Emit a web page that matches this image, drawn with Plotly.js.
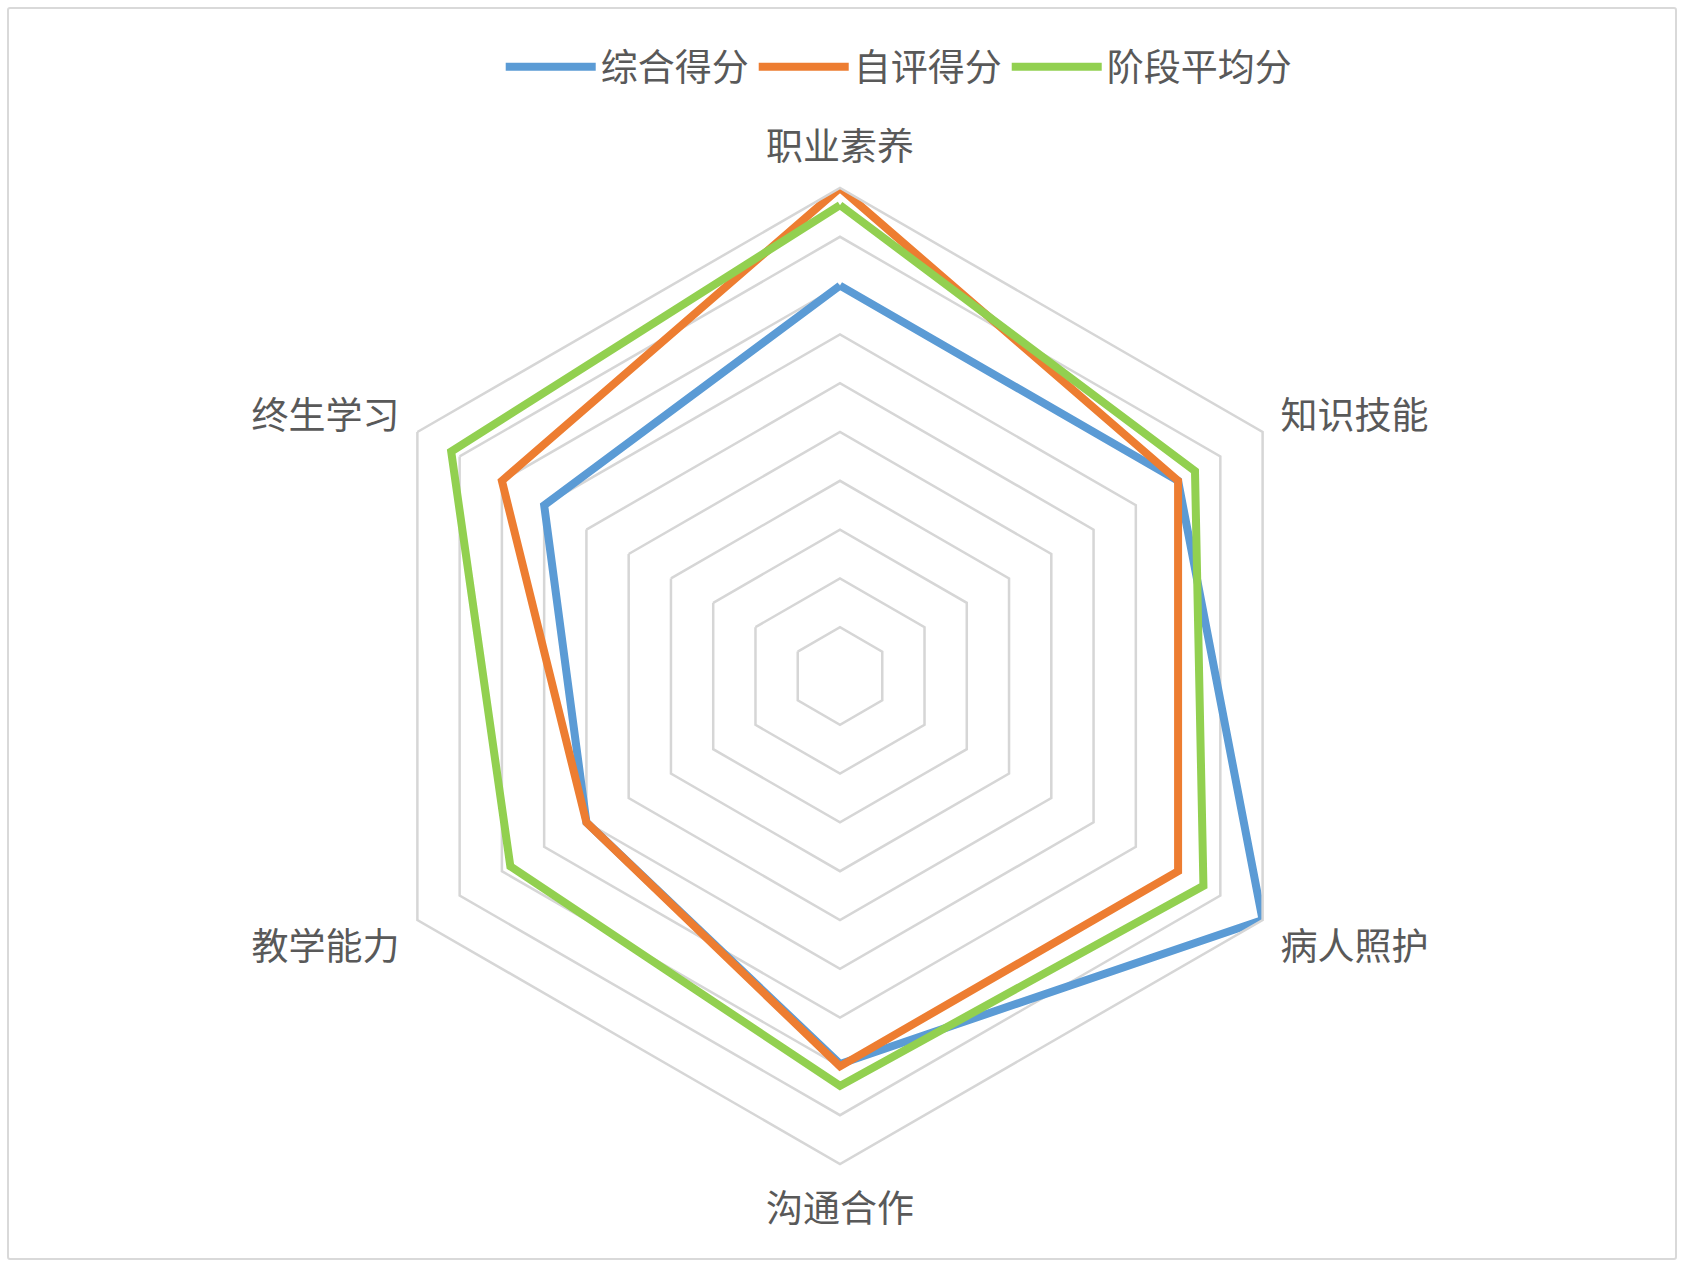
<!DOCTYPE html>
<html>
<head>
<meta charset="utf-8">
<script src="https://cdn.plot.ly/plotly-3.0.1.min.js"></script>
<style>
  html, body { margin: 0; padding: 0; background: #ffffff; }
  #wrap { position: relative; width: 1683px; height: 1266px; }
  #chart { position: absolute; left: 0; top: 0; width: 1683px; height: 1266px; }
  #frame { position: absolute; left: 7px; top: 7px; width: 1666px; height: 1249px;
           border: 2px solid #d9d9d9; border-radius: 3px; pointer-events: none; }
</style>
</head>
<body>
<div id="wrap">
  <div id="chart"></div>
  <div id="frame"></div>
</div>
<script>
const categories = ['职业素养', '知识技能', '病人照护', '沟通合作', '教学能力', '终生学习'];
const seriesNames = ['综合得分', '自评得分', '阶段平均分'];
const overallScore = [8.0, 8.0, 10.0, 7.95, 6.0, 7.0];
const selfScore = [10.0, 8.0, 8.0, 8.0, 6.0, 8.0];
const stageAverage = [9.65, 8.4, 8.6, 8.4, 7.8, 9.2];
const seriesColors = ['#5B9BD5', '#ED7D31', '#92D050'];

const allSeries = [overallScore, selfScore, stageAverage];
const fontFamily = '"Noto Sans CJK SC", "Noto Sans", sans-serif';

const traces = allSeries.map((vals, i) => ({
  type: 'scatterpolar',
  mode: 'lines',
  name: seriesNames[i],
  r: vals.concat([vals[0]]),
  theta: categories.concat([categories[0]]),
  line: { color: seriesColors[i], width: 8, shape: 'linear' },
  cliponaxis: false,
  hoverinfo: 'skip'
}));

const layout = {
  width: 1683,
  height: 1266,
  margin: { l: 0, r: 0, t: 0, b: 0, pad: 0 },
  paper_bgcolor: '#ffffff',
  plot_bgcolor: '#ffffff',
  font: { family: fontFamily, color: '#595959', size: 37 },
  showlegend: true,
  legend: {
    orientation: 'h',
    x: 0.534, xanchor: 'center',
    y: 0.947, yanchor: 'middle',
    font: { family: fontFamily, size: 37, color: '#595959' },
    itemwidth: 90,
    traceorder: 'normal',
    bgcolor: 'rgba(0,0,0,0)'
  },
  polar: {
    domain: { x: [0.20915, 0.78906], y: [0.08057, 0.85150] },
    bgcolor: '#ffffff',
    gridshape: 'linear',
    radialaxis: {
      range: [0, 10],
      dtick: 1,
      tick0: 0,
      showticklabels: false,
      ticks: '',
      showline: false,
      showgrid: true,
      gridcolor: '#d6d6d6',
      gridwidth: 2.5
    },
    angularaxis: {
      direction: 'clockwise',
      rotation: 90,
      showgrid: false,
      showline: true,
      linecolor: '#d6d6d6',
      linewidth: 2.5,
      ticks: 'outside',
      ticklen: 12,
      tickcolor: 'rgba(0,0,0,0)',
      tickfont: { family: fontFamily, size: 37, color: '#595959' }
    }
  }
};

Plotly.newPlot('chart', traces, layout, { staticPlot: true, displayModeBar: false });
</script>
</body>
</html>
